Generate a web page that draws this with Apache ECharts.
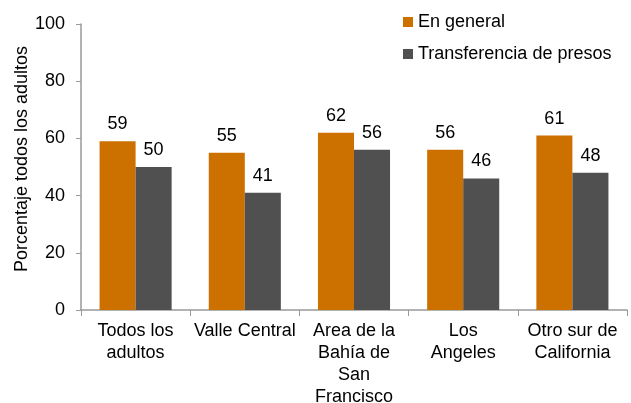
<!DOCTYPE html>
<html>
<head>
<meta charset="utf-8">
<script src="https://cdn.jsdelivr.net/npm/echarts@6/dist/echarts.min.js"></script>
<style>
  html, body { margin: 0; padding: 0; background: #fff; }
  #chart { width: 631px; height: 403px; }
</style>
</head>
<body>
<div id="chart"></div>
<script>
const categories = [
  'Todos los\nadultos',
  'Valle Central',
  'Area de la\nBahía de\nSan\nFrancisco',
  'Los\nAngeles',
  'Otro sur de\nCalifornia'
]
const enGeneral = [59, 55, 62, 56, 61]
const transferencia = [50, 41, 56, 46, 48]
const yTicks = { min: 0, max: 100, interval: 20 }

const font = 'Liberation Sans, Arial, sans-serif'
const fs = 18
const chart = echarts.init(document.getElementById('chart'))

const labelStyle = {
  show: true,
  position: 'top',
  distance: 8,
  color: '#000',
  fontSize: fs,
  fontFamily: font
}

chart.setOption({
  animation: false,
  textStyle: { fontFamily: font },
  color: ['#CC7000', '#505050'],
  legend: {
    orient: 'vertical',
    left: 398,
    top: 8,
    itemWidth: 10,
    itemHeight: 10,
    itemGap: 14,
    icon: 'rect',
    textStyle: { fontSize: fs, color: '#000', fontFamily: font },
    data: ['En general', 'Transferencia de presos']
  },
  grid: {
    left: 81,
    right: 4,
    top: 24,
    bottom: 93,
    outerBoundsMode: 'none'
  },
  xAxis: {
    type: 'category',
    data: categories,
    axisLine: { lineStyle: { color: '#999', width: 1.5 } },
    axisTick: { show: true, length: 6, lineStyle: { color: '#999' } },
    axisLabel: {
      color: '#000',
      fontSize: fs,
      lineHeight: 22,
      margin: 10,
      interval: 0,
      fontFamily: font
    }
  },
  yAxis: {
    type: 'value',
    min: yTicks.min,
    max: yTicks.max,
    interval: yTicks.interval,
    name: 'Porcentaje todos los adultos',
    nameLocation: 'middle',
    nameGap: 50,
    nameMoveOverlap: false,
    nameTextStyle: { color: '#000', fontSize: fs, fontFamily: font, padding: [0, 0, 0, 16] },
    axisLine: { show: true, lineStyle: { color: '#999', width: 1.5 } },
    axisTick: { show: true, length: 5, lineStyle: { color: '#999' } },
    splitLine: { show: false },
    axisLabel: { color: '#000', fontSize: fs, margin: 16, fontFamily: font }
  },
  series: [
    {
      name: 'En general',
      type: 'bar',
      barGap: 0,
      barCategoryGap: '34%',
      data: enGeneral,
      label: labelStyle
    },
    {
      name: 'Transferencia de presos',
      type: 'bar',
      barGap: 0,
      barCategoryGap: '34%',
      data: transferencia,
      label: labelStyle
    }
  ]
})
</script>
</body>
</html>
